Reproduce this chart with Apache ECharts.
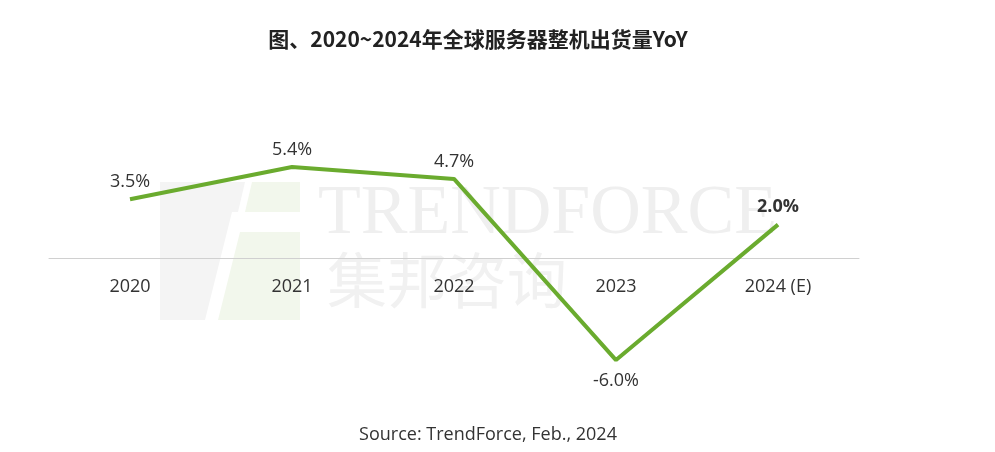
<!DOCTYPE html>
<html><head><meta charset="utf-8">
<script src="https://cdn.jsdelivr.net/npm/echarts@6/dist/echarts.min.js"></script>
<style>html,body{margin:0;padding:0;background:#fff}#c{width:995px;height:452px}</style>
</head><body><div id="c"></div>
<script>
const categories = ['2020', '2021', '2022', '2023', '2024 (E)'];
const yoyValues = [3.5, 5.4, 4.7, -6.0, 2.0];
const valueLabels = ['3.5%', '5.4%', '4.7%', '-6.0%', '2.0%'];
const titleText = '图、2020~2024年全球服务器整机出货量YoY';
const sourceText = 'Source: TrendForce, Feb., 2024';

const chart = echarts.init(document.getElementById('c'));
const data = yoyValues.map((v, i) => ({
  value: v,
  label: {
    show: true,
    position: v < 0 ? 'bottom' : 'top',
    distance: v < 0 ? 11 : 8,
    fontWeight: i === 4 ? 'bold' : 'normal',
    formatter: valueLabels[i]
  }
}));
chart.setOption({
  backgroundColor: '#fff',
  animation: false,
  title: [{
    text: titleText, left: 473, top: 24, textAlign: 'center',
    textStyle: {fontFamily: 'Noto Sans CJK SC', fontSize: 21, fontWeight: 'bold', color: '#222'}
  }, {
    text: sourceText, left: 483, top: 421, textAlign: 'center',
    textStyle: {fontFamily: 'Open Sans', fontSize: 18, fontWeight: 'normal', color: '#333'}
  }],
  graphic: [
    {type: 'polygon', silent: true, z: -1, shape: {points: [[160,182],[245,182],[238,212],[160,212]]}, style: {fill: '#f4f4f4'}},
    {type: 'polygon', silent: true, z: -1, shape: {points: [[160,212],[232,212],[205,320],[160,320]]}, style: {fill: '#f4f4f4'}},
    {type: 'polygon', silent: true, z: -1, shape: {points: [[252,182],[300,182],[300,212],[245,212]]}, style: {fill: '#f2f7ec'}},
    {type: 'polygon', silent: true, z: -1, shape: {points: [[240,232],[300,232],[300,320],[218,320]]}, style: {fill: '#f2f7ec'}},
    {type: 'text', silent: true, z: -1, left: 318, top: 180,
      style: {text: 'TRENDFORCE', font: '70px "Liberation Serif"', fill: '#efefef'}},
    {type: 'text', silent: true, z: -1, left: 327, top: 250,
      style: {text: '集邦咨询', font: '60px "Noto Sans CJK SC"', fill: '#f1f1f1'}}
  ],
  grid: {left: 49, right: 136, top: 140, height: 237},
  xAxis: {
    type: 'category', data: categories, boundaryGap: true,
    axisLine: {onZero: true, lineStyle: {color: '#d0d0d0', width: 1}},
    axisTick: {show: false},
    axisLabel: {margin: -99, fontFamily: 'Open Sans', fontSize: 18, color: '#333'}
  },
  yAxis: {
    type: 'value', min: -7, max: 7, interval: 7,
    axisLine: {show: false}, axisTick: {show: false}, axisLabel: {show: false},
    splitLine: {show: false}
  },
  series: [{
    type: 'line', data: data, symbol: 'circle', symbolSize: 1, showSymbol: true,
    itemStyle: {color: 'rgba(0,0,0,0)', borderWidth: 0},
    lineStyle: {color: '#6aab2e', width: 4},
    label: {fontFamily: 'Open Sans', fontSize: 18, color: '#333'}
  }]
});
</script></body></html>
